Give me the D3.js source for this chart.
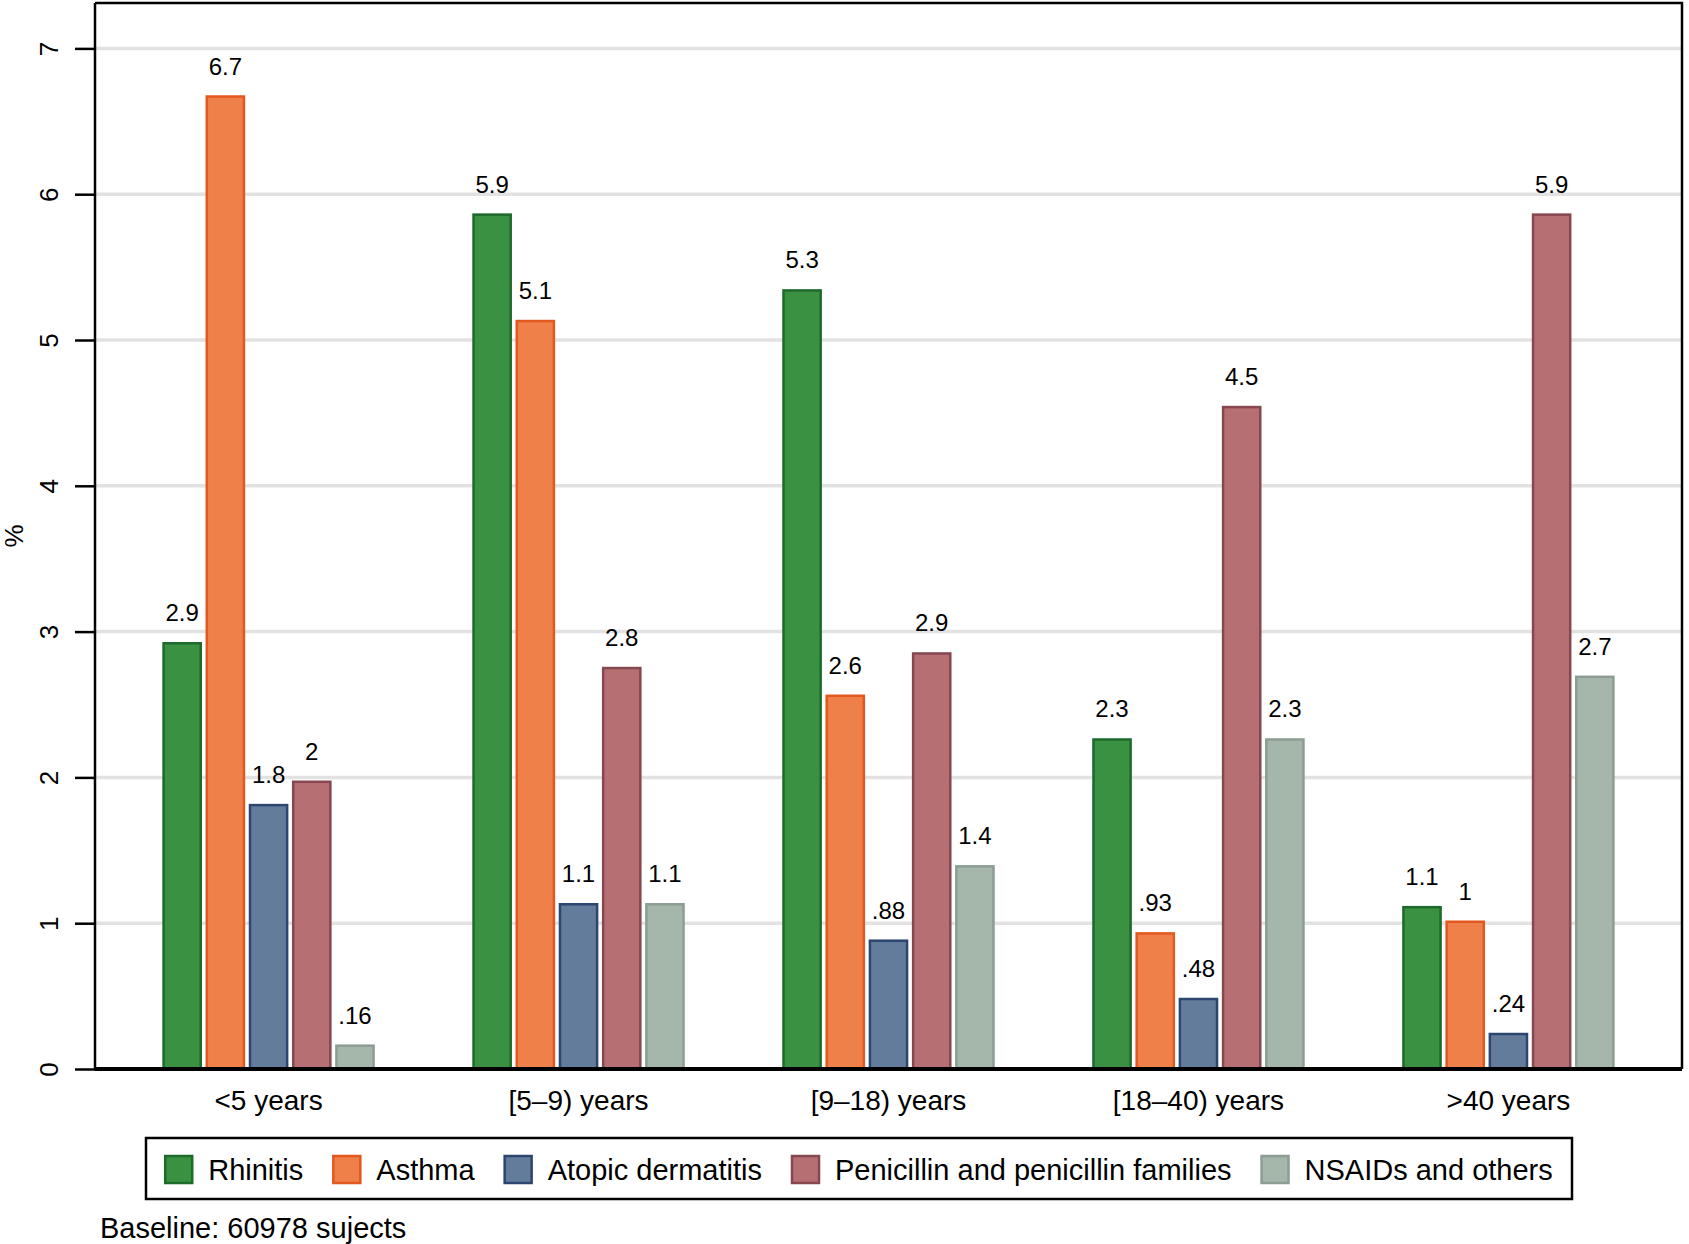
<!DOCTYPE html>
<html>
<head>
<meta charset="utf-8">
<style>
  body { margin: 0; background: #fff; }
  text { font-family: "Liberation Sans", Arial, sans-serif; fill: #000; }
</style>
</head>
<body>
<svg width="1689" height="1244"></svg>
<script src="https://cdn.jsdelivr.net/npm/d3@7/dist/d3.min.js"></script>
<script>

var groups = ["<5 years", "[5\u20139) years", "[9\u201318) years", "[18\u201340) years", ">40 years"],
    series = ["Rhinitis", "Asthma", "Atopic dermatitis", "Penicillin and penicillin families", "NSAIDs and others"],
    yTicks = [0, 1, 2, 3, 4, 5, 6, 7];

// one array per series, in the order of the groups
var rhinitis   = [2.92, 5.86, 5.34, 2.26, 1.11],
    asthma     = [6.67, 5.13, 2.56, 0.93, 1.01],
    atopic     = [1.81, 1.13, 0.88, 0.48, 0.24],
    penicillin = [1.97, 2.75, 2.85, 4.54, 5.86],
    nsaids     = [0.16, 1.13, 1.39, 2.26, 2.69];

var values = [rhinitis, asthma, atopic, penicillin, nsaids];

var fills   = ["#3a9142", "#ef804a", "#637c9c", "#b66f73", "#a5b6ab"],
    strokes = ["#1d6a2b", "#e3581f", "#2d4670", "#86474f", "#8d9d93"];

var svg = d3.select("svg"),
    plotL = 95, plotR = 1682, plotT = 3, plotB = 1069;

var x0 = d3.scalePoint().domain(groups).range([plotL, plotR]).padding(0.56),
    x1 = d3.scaleBand().domain(d3.range(series.length)).range([-105, 105]).paddingInner(0.14),
    y = d3.scaleLinear().domain([0, 7]).range([plotB, plotB - 7 * 145.8]);

var fmt = function(v) { return d3.format(".2~g")(v).replace(/^0\./, "."); };

// gridlines
svg.append("g")
    .attr("stroke", "#e2e2e2")
    .attr("stroke-width", 3.5)
  .selectAll("line")
  .data(yTicks.slice(1))
  .enter().append("line")
    .attr("x1", plotL)
    .attr("x2", plotR)
    .attr("y1", function(d) { return y(d); })
    .attr("y2", function(d) { return y(d); });

// frame top/right
svg.append("path")
    .attr("d", "M" + plotL + "," + plotT + "H" + plotR + "V" + plotB)
    .attr("fill", "none")
    .attr("stroke", "#000")
    .attr("stroke-width", 2.5);

// bars
var rows = [];
groups.forEach(function(g, gi) {
  series.forEach(function(s, si) {
    rows.push({group: g, si: si, value: values[si][gi]});
  });
});

svg.append("g")
  .selectAll("rect")
  .data(rows)
  .enter().append("rect")
    .attr("x", function(d) { return x0(d.group) + x1(d.si); })
    .attr("y", function(d) { return y(d.value); })
    .attr("width", x1.bandwidth())
    .attr("height", function(d) { return y(0) - y(d.value); })
    .attr("fill", function(d) { return fills[d.si]; })
    .attr("stroke", function(d) { return strokes[d.si]; })
    .attr("stroke-width", 2.5);

svg.append("g")
    .attr("font-size", 24)
    .attr("text-anchor", "middle")
  .selectAll("text")
  .data(rows)
  .enter().append("text")
    .attr("x", function(d) { return x0(d.group) + x1(d.si) + x1.bandwidth() / 2; })
    .attr("y", function(d) { return y(d.value) - 22; })
    .text(function(d) { return fmt(d.value); });

// y axis
var yAxis = svg.append("g")
    .attr("transform", "translate(" + plotL + ",0)")
    .call(d3.axisLeft(y).tickValues(yTicks).tickSize(20).tickPadding(0).tickFormat(d3.format("d")));
yAxis.select(".domain").attr("stroke-width", 2.5).attr("d", "M0," + plotT + "V" + plotB);
yAxis.selectAll(".tick line").attr("stroke-width", 2.5);
yAxis.selectAll(".tick text")
    .attr("font-size", 26)
    .attr("text-anchor", "middle")
    .attr("dy", null)
    .attr("x", null)
    .attr("transform", "translate(-46,0) rotate(-90)")
    .attr("dominant-baseline", "central")
    .style("font-family", "'Liberation Sans', Arial, sans-serif");

svg.append("text")
    .attr("transform", "translate(14,536) rotate(-90)")
    .attr("text-anchor", "middle")
    .attr("dominant-baseline", "central")
    .attr("font-size", 26)
    .text("%");

// x axis
svg.append("line")
    .attr("x1", plotL).attr("x2", plotR)
    .attr("y1", plotB).attr("y2", plotB)
    .attr("stroke", "#000")
    .attr("stroke-width", 4);

svg.append("g")
    .attr("font-size", 28)
    .attr("text-anchor", "middle")
  .selectAll("text")
  .data(groups)
  .enter().append("text")
    .attr("x", function(d) { return x0(d); })
    .attr("y", 1110)
    .text(function(d) { return d; });

// legend
var legend = svg.append("g");
legend.append("rect")
    .attr("x", 146).attr("y", 1138)
    .attr("width", 1426).attr("height", 61)
    .attr("fill", "#fff")
    .attr("stroke", "#000")
    .attr("stroke-width", 2.5);

var items = legend.selectAll("g.item")
  .data(series)
  .enter().append("g").attr("class", "item");

items.append("rect")
    .attr("width", 27).attr("height", 27)
    .attr("y", 1156)
    .attr("fill", function(d, i) { return fills[i]; })
    .attr("stroke", function(d, i) { return strokes[i]; })
    .attr("stroke-width", 2.5);

items.append("text")
    .attr("font-size", 29)
    .attr("y", 1180)
    .text(function(d) { return d; });

var widths = [];
items.selectAll("text").each(function() { widths.push(this.getComputedTextLength()); });
var gapSw = 16, gapItem = 30;
var total = d3.sum(widths) + series.length * (27 + gapSw) + (series.length - 1) * gapItem;
var cx = 146 + (1426 - total) / 2;
items.each(function(d, i) {
  var g = d3.select(this);
  g.select("rect").attr("x", cx);
  g.select("text").attr("x", cx + 27 + gapSw);
  cx += 27 + gapSw + widths[i] + gapItem;
});

svg.append("text")
    .attr("x", 100)
    .attr("y", 1238)
    .attr("font-size", 29)
    .text("Baseline: 60978 sujects");

</script>
</body>
</html>
